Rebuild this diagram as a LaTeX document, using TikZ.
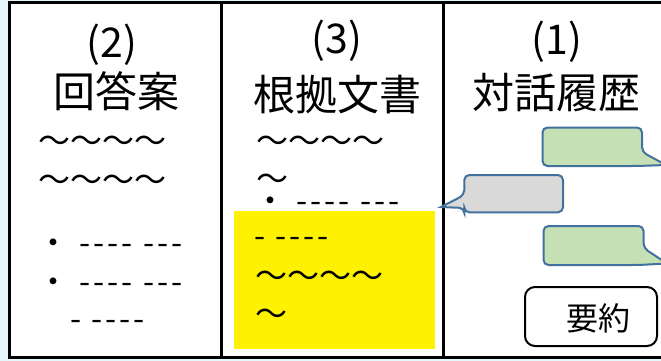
\documentclass[tikz,border=0pt]{standalone}
\usepackage{fontspec}
\setmainfont{Noto Sans CJK JP}[Ligatures=TeXOff]
\newfontfamily\dashfont{Noto Sans CJK JP}[Ligatures=TeXOff, LetterSpace=9.5]
\definecolor{bg}{RGB}{230,244,252}
\definecolor{bubbleline}{RGB}{65,113,156}
\definecolor{bubblegreen}{RGB}{197,224,180}
\definecolor{bubblegray}{RGB}{217,217,217}
\tikzset{
  titletext/.style={font=\fontsize{42}{50}\selectfont, inner sep=0pt},
  numtext/.style={font=\fontsize{41}{48}\selectfont, inner sep=0pt},
  bodytext/.style={font=\fontsize{32}{38}\selectfont, inner sep=0pt, anchor=west},
  dashtext/.style={font=\dashfont\fontsize{32}{38}\selectfont, inner sep=0pt, anchor=west},
  bubble/.style={draw=bubbleline, line width=2pt, rounded corners=5pt},
  frameline/.style={draw=black, line width=3pt},
}
\begin{document}
\begin{tikzpicture}[x=1pt,y=-1pt]
\useasboundingbox (0,0) rectangle (661,361);
\clip (0,0) rectangle (661,361);
\fill[bg] (0,0) rectangle (661,361);
\fill[white] (9.5,2.3) rectangle (670,357.5);
\fill[yellow] (234,211) rectangle (435,349);
\draw[frameline] (670,2.3) -- (9.5,2.3) -- (9.5,357.5) -- (670,357.5);
\draw[frameline] (221.5,2.3) -- (221.5,357.5);
\draw[frameline] (443.8,2.3) -- (443.8,357.5);

% column (2)
\node[numtext] (n2) at (112,44.5) {(2)};
\node[titletext] (t2) at (116,91) {回答案};
\node[bodytext] (a1) at (38.5,144) {～～～～};
\node[bodytext] (a2) at (38.5,183) {～～～～};
\node[dashtext] (a3) at (37,247) {・ ---- ---};
\node[dashtext] (a4) at (37,286) {・ ---- ---};
\node[dashtext] (a5) at (70,325) {- ----};

% column (3)
\node[numtext] (n3) at (337,41) {(3)};
\node[titletext] (t3) at (337.5,95) {根拠文書};
\node[bodytext] (b1) at (256.5,144) {～～～～};
\node[bodytext] (b2) at (256.5,182) {～};
\node[dashtext] (b3) at (254,204.5) {・ ---- ---};
\node[dashtext] (b4) at (254,242) {- ----};
\node[bodytext] (b5) at (255.5,279) {～～～～};
\node[bodytext] (b6) at (255.5,317) {～};

% column (1)
\node[numtext] (n1) at (557,41.5) {(1)};
\node[titletext] (t1) at (556.5,92.5) {対話履歴};
\path[bubble, fill=bubblegreen] (592,127.5) -- (642,127.5) -- (642,152) [sharp corners] -- (666,165) [rounded corners=5pt] -- (637,166) -- (542.5,166) -- (542.5,127.5) -- cycle;
\path[bubble, fill=bubblegray] (513,175) -- (563,175) -- (563,212.3) -- (464.3,212.3) -- (464.3,208) [sharp corners] -- (441,207) [rounded corners=5pt] -- (464.3,195) -- (464.3,175) -- cycle;
\path[bubble, fill=bubblegreen] (593,226) -- (643.5,226) -- (643.5,248) [sharp corners] -- (667,263.5) [rounded corners=5pt] -- (638,265) -- (543.5,265) -- (543.5,226) -- cycle;
\node[draw=black, fill=white, line width=2pt, rounded corners=10pt, minimum width=132pt, minimum height=59pt, inner sep=0pt] (sumbox) at (591,316.5) {};
\node[font=\fontsize{32}{38}\selectfont, inner sep=0pt] (sum) at (598,318) {要約};
\end{tikzpicture}
\end{document}
